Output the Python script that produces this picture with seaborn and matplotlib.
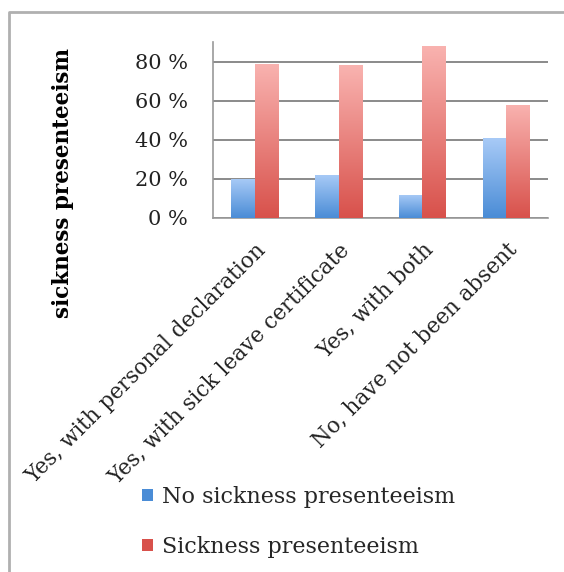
import numpy as np
import pandas as pd
import matplotlib
matplotlib.use("Agg")
import matplotlib.pyplot as plt
from matplotlib.colors import LinearSegmentedColormap
from matplotlib.lines import Line2D
from matplotlib.patches import Patch
import seaborn as sns

# ── data ──────────────────────────────────────────────
categories = [
    "Yes, with personal declaration",
    "Yes, with sick leave certificate",
    "Yes, with both",
    "No, have not been absent",
]
series = ["No sickness presenteeism", "Sickness presenteeism"]
no_presenteeism = [0.20, 0.22, 0.12, 0.41]
presenteeism = [0.79, 0.78, 0.88, 0.58]
y_ticks = [0.0, 0.2, 0.4, 0.6, 0.8]
y_tick_labels = ["0 %", "20 %", "40 %", "60 %", "80 %"]

df = pd.DataFrame({
    "category": categories * 2,
    "series": [series[0]] * 4 + [series[1]] * 4,
    "value": no_presenteeism + presenteeism,
})

# gradient colours (top, bottom)
grad = {
    series[0]: ("#a9cbf7", "#4a8cd6"),
    series[1]: ("#f9b3b0", "#d8514b"),
}

sns.set_style("white")
plt.rcParams["font.family"] = ["DejaVu Serif"]

fig = plt.figure(figsize=(5.64, 5.72), dpi=100)
ax = fig.add_axes([213 / 564, 1 - 218 / 572, (548 - 213) / 564, (218 - 42) / 572])

sns.barplot(data=df, x="category", y="value", hue="series", order=categories,
            hue_order=series, palette=[grad[s][1] for s in series],
            width=0.56, ax=ax, legend=False, saturation=1)

# paint a vertical gradient inside every bar
for container, s in zip(ax.containers, series):
    cmap = LinearSegmentedColormap.from_list(s, [grad[s][1], grad[s][0]])
    for bar in container:
        x0, y0 = bar.get_x(), bar.get_y()
        w, h = bar.get_width(), bar.get_height()
        bar.set_facecolor("none")
        bar.set_edgecolor("none")
        img = ax.imshow(np.linspace(0, 1, 256).reshape(-1, 1), cmap=cmap,
                        extent=[x0, x0 + w, y0, y0 + h], origin="lower",
                        aspect="auto", zorder=3)
        img.set_clip_path(bar)

ax.set_xlim(-0.5, 3.5)
ax.set_ylim(0, 0.9)
ax.set_yticks(y_ticks)
ax.set_yticklabels(y_tick_labels, fontsize=15, color="#222222")
ax.set_xticks([-0.5, 0.5, 1.5, 2.5, 3.5], minor=False)
ax.set_xticklabels([])
ax.set_xticks(range(len(categories)), minor=True)
ax.set_xticklabels(categories, minor=True, rotation=45, ha="right",
                   rotation_mode="anchor", fontsize=15.5, color="#222222")
ax.tick_params(axis="x", which="major", length=6, width=1.2, color="#888888",
               direction="out")
ax.tick_params(axis="x", which="minor", length=0, pad=15)
ax.tick_params(axis="y", length=6, width=1.2, color="#888888", direction="out",
               pad=12)

ax.yaxis.grid(True, color="#8a8a8a", linewidth=1.4)
ax.set_axisbelow(True)
for side in ["top", "right"]:
    ax.spines[side].set_visible(False)
for side in ["left", "bottom"]:
    ax.spines[side].set_color("#999999")
    ax.spines[side].set_linewidth(1.2)

ax.set_xlabel("")
ax.set_ylabel("sickness presenteeism", fontsize=15.5, fontweight="bold",
              color="black")
ax.yaxis.set_label_coords(-0.415, 0.2)

handles = [Patch(facecolor=grad[s][1], edgecolor="none") for s in series]
fig.legend(handles, series, loc="upper left",
           bbox_to_anchor=(122 / 564, 1 - 466 / 572), frameon=False,
           fontsize=16, handlelength=0.5, handleheight=0.5, handletextpad=0.4,
           labelspacing=1.25)

# outer frame of the chart area
fig.add_artist(Line2D([9 / 564, 9 / 564, 1], [0, 1 - 12 / 572, 1 - 12 / 572],
                      transform=fig.transFigure, color="#b0b0b0", linewidth=2))

fig.savefig("out.png", dpi=100)
